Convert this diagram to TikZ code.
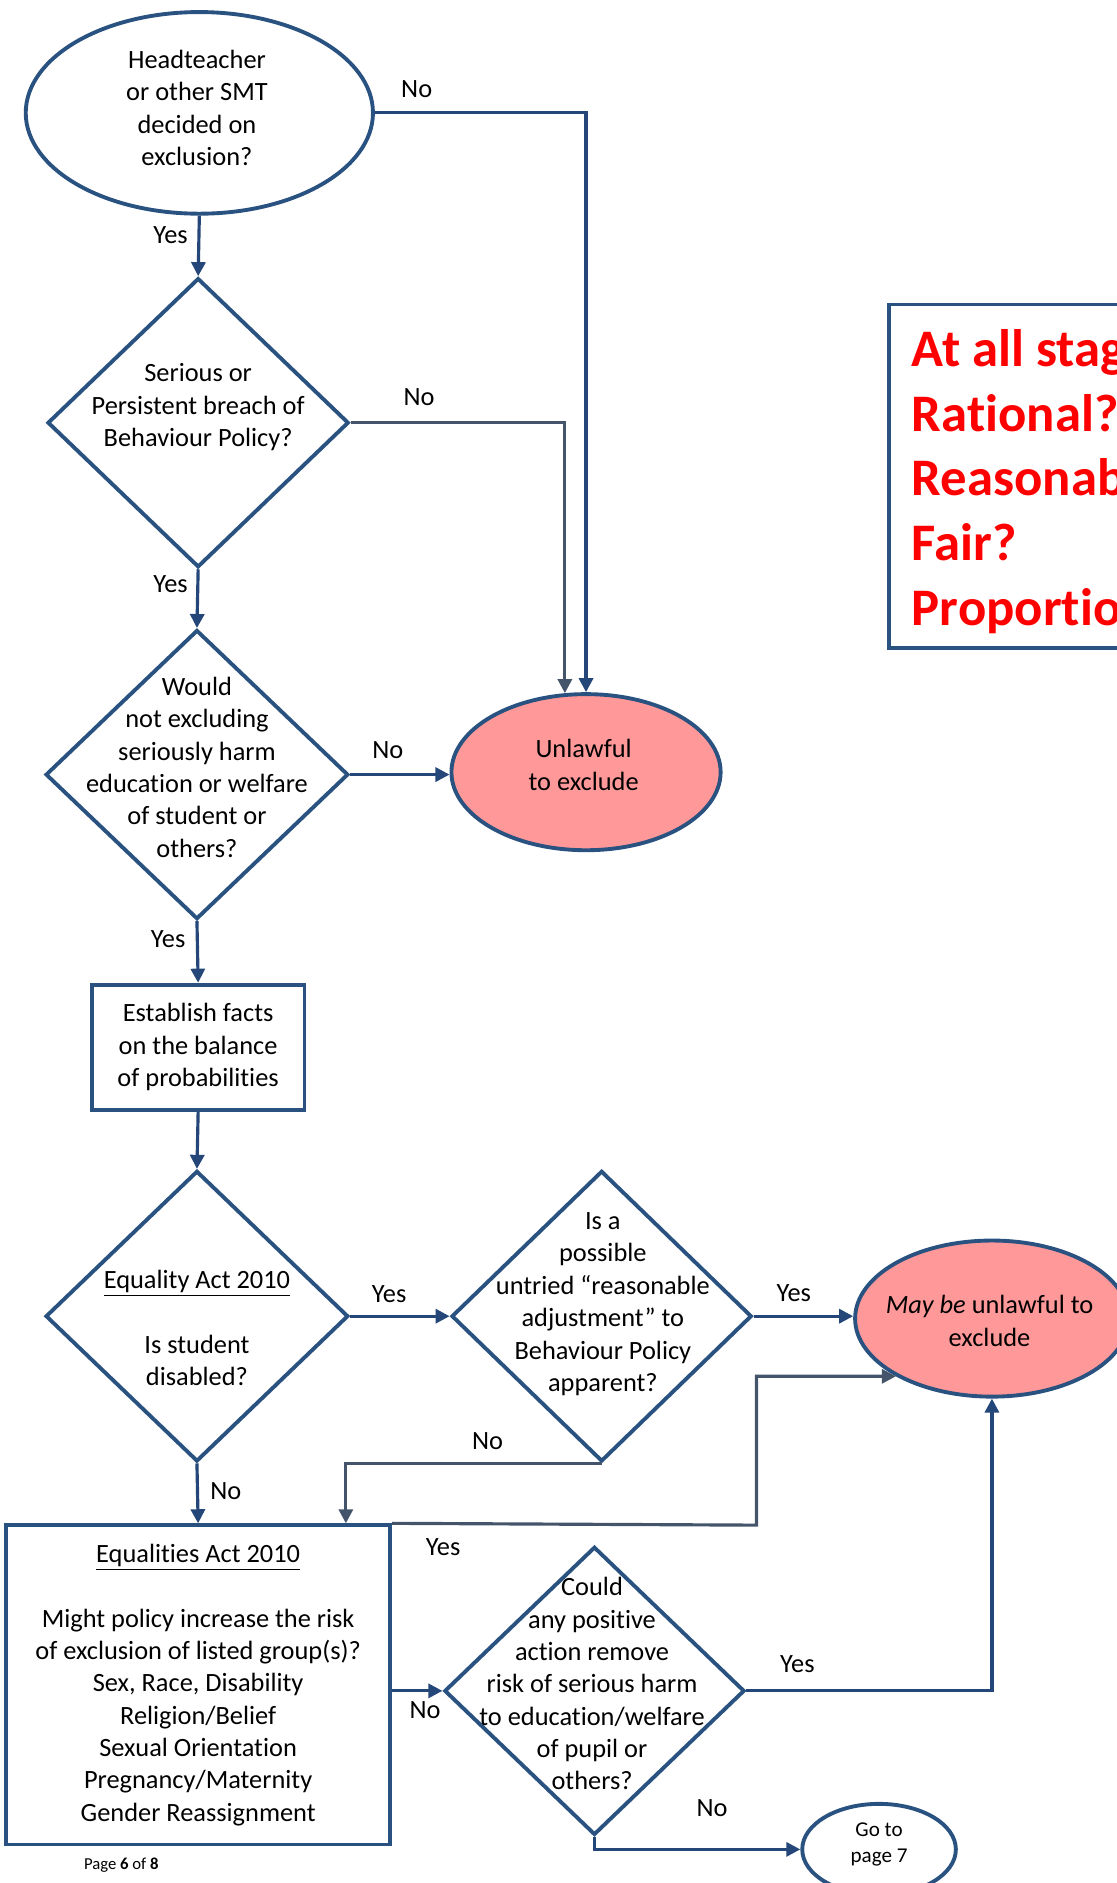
\documentclass[tikz,border=0pt]{standalone}
\usepackage{fontspec}
\setmainfont{Carlito}[Ligatures=NoCommon]
\usetikzlibrary{shapes.geometric,arrows.meta}

\definecolor{flowblue}{RGB}{41,82,128}
\definecolor{flowline}{RGB}{36,70,120}
\definecolor{flowgrey}{RGB}{68,84,106}
\definecolor{flowpink}{RGB}{255,153,153}
\definecolor{flowred}{RGB}{255,0,0}

\def\scale{0.024}

\begin{document}
\begin{tikzpicture}[%
	x=\scale cm, y=-\scale cm,%
	txt/.style ={text=black, align=center, font=\fontsize{15}{18.4}\selectfont},%
	lbl/.style ={text=black, inner sep=0pt, font=\fontsize{15}{18.4}\selectfont},%
	question/.style ={ellipse, draw=flowblue, line width=2.2pt, inner sep=0pt, txt},%
	decision/.style ={diamond, draw=flowblue, line width=2.2pt, inner sep=0pt},%
	stepbox/.style ={rectangle, draw=flowblue, line width=2.2pt, inner sep=0pt, txt},%
	conn/.style ={draw=flowline, line width=1.8pt, -{Triangle[length=8pt,width=8pt]}},%
	conngrey/.style ={conn, draw=flowgrey},%
	]
%%% frame
	\useasboundingbox (0,0) rectangle (930,1568);
%%% shapes
	\node [question, minimum width=6.94cm, minimum height=4.03cm] (head) at (166,94) {};
	\node [txt] (headtxt) at (164,90) {Headteacher\\or other SMT\\decided on\\exclusion?};
	%
	\node [decision, minimum width=6.02cm, minimum height=5.78cm] (breach) at (165,352) {};
	\node [txt] (breachtxt) at (165,339) {Serious or\\Persistent breach of\\Behaviour Policy?};
	%
	\node [decision, minimum width=6.05cm, minimum height=5.78cm] (harm) at (164,645) {};
	\node [txt] (harmtxt) at (164,639) {Would\\not excluding\\seriously harm\\education or welfare\\of student or\\others?};
	%
	\node [question, fill=flowpink, minimum width=5.38cm, minimum height=3.12cm] (unlawful) at (488,643) {};
	\node [txt] (unlawfultxt) at (486,637) {Unlawful\\to exclude};
	%
	\node [stepbox, minimum width=4.25cm, minimum height=2.5cm] (facts) at (165,872) {Establish facts\\on the balance\\of probabilities};
	%
	\node [decision, minimum width=6.05cm, minimum height=5.81cm] (disabled) at (164,1096) {};
	\node [txt] (disabledtxt) at (164,1106) {\underline{Equality Act 2010}\\[18.4pt]Is student\\disabled?};
	%
	\node [decision, minimum width=6cm, minimum height=5.81cm] (adjust) at (501,1096) {};
	\node [txt] (adjusttxt) at (502,1086) {Is a\\possible\\untried “reasonable\\adjustment” to\\Behaviour Policy\\apparent?};
	%
	\node [question, fill=flowpink, minimum width=5.47cm, minimum height=3.12cm] (maybe) at (826,1098) {};
	\node [txt] (maybetxt) at (824,1100) {\textit{May be} unlawful to\\exclude};
	%
	\node [stepbox, anchor=north west, minimum width=8cm, minimum height=6.86cm] (stages) at (739,252) {};
	\node [anchor=west, align=left, text=flowred, inner sep=0pt, font=\fontsize{30}{36.9}\selectfont\bfseries] (stagestxt) at (759,401) {At all stages\\Rational?\\Reasonable?\\Fair?\\Proportionate?};
	%
	\node [stepbox, minimum width=7.68cm, minimum height=6.38cm] (equalities) at (165,1403) {\underline{Equalities Act 2010}\\[18.4pt]Might policy increase the risk\\of exclusion of listed group(s)?\\Sex, Race, Disability\\Religion/Belief\\Sexual Orientation\\Pregnancy/Maternity\\Gender Reassignment};
	%
	\node [decision, minimum width=6cm, minimum height=5.76cm] (positive) at (495,1408) {};
	\node [txt] (positivetxt) at (493,1402) {Could\\any positive\\action remove\\risk of serious harm\\to education/welfare\\of pupil or\\others?};
	%
	\node [question, minimum width=3.07cm, minimum height=1.82cm] (gotopage) at (732,1540) {};
	\node [txt, font=\fontsize{12}{15}\selectfont] (gotopagetxt) at (732,1536) {Go to\\page 7};
	\node [font=\fontsize{9.5}{11}\selectfont] (footer) at (101,1553) {Page \textbf{6} of \textbf{8}};
%%% shapes
%%% connectors
	\draw [conn] (head.east) -| (unlawful.north);
	\draw [conn] (head.south) -- (breach.north);
	\draw [conngrey] (breach.east) -| (unlawful.105);
	\draw [conn] (breach.south) -- (harm.north);
	\draw [conn] (harm.east) -- (harm.east -| unlawful.west);
	\draw [conn] (harm.south) -- (facts.north);
	\draw [conn] (facts.south) -- (disabled.north);
	\draw [conn] (disabled.east) -- (adjust.west);
	\draw [conn] (adjust.east) -- (adjust.east -| maybe.west);
	\draw [conngrey] (adjust.south) -| ([xshift=84pt]equalities.north);
	\draw [conn] (disabled.south) -- (equalities.north);
	\draw [conngrey] (equalities.north east) -- (630,1270) |- (maybe.211);
	\draw [conn] (equalities.east |- positive.west) -- (positive.west);
	\draw [conn] (positive.east) -| (maybe.south);
	\draw [conn] (positive.south) |- (gotopage.west);
%%% connectors
%%% labels
	\node [lbl] (nohead) at (347,74) {No};
	\node [lbl] (yeshead) at (142,196) {Yes};
	\node [lbl] (nobreach) at (349,331) {No};
	\node [lbl] (yesbreach) at (142,486) {Yes};
	\node [lbl] (noharm) at (323,625) {No};
	\node [lbl] (yesharm) at (140,782) {Yes};
	\node [lbl] (yesdisabled) at (324,1078) {Yes};
	\node [lbl] (yesadjust) at (661,1077) {Yes};
	\node [lbl] (noadjust) at (406,1200) {No};
	\node [lbl] (nodisabled) at (188,1242) {No};
	\node [lbl] (yesequal) at (369,1288) {Yes};
	\node [lbl] (noequal) at (354,1424) {No};
	\node [lbl] (yespositive) at (664,1386) {Yes};
	\node [lbl] (nopositive) at (593,1506) {No};
%%% labels
\end{tikzpicture}
\end{document}
